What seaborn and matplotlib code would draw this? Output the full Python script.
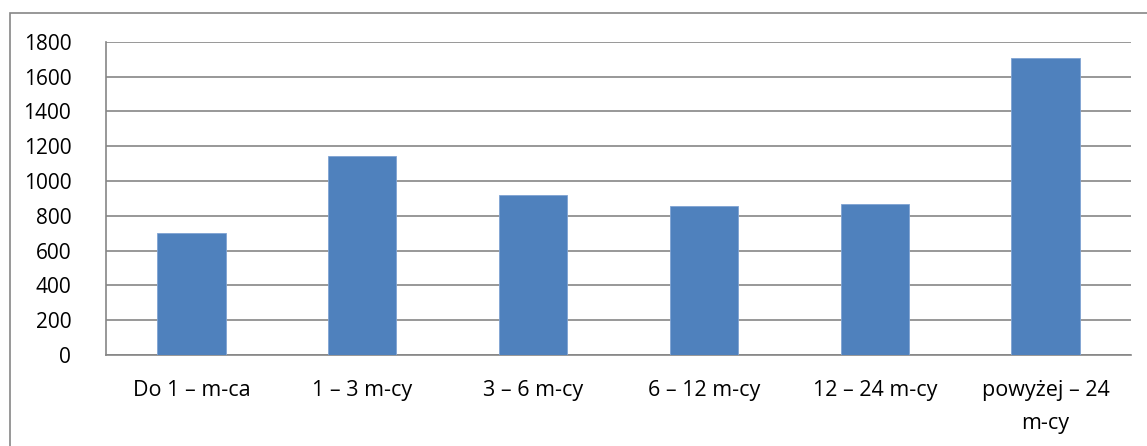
import matplotlib
matplotlib.use("Agg")
import matplotlib.pyplot as plt
import seaborn as sns
import pandas as pd
from matplotlib.patches import Rectangle

categories = ["Do 1 – m-ca", "1 – 3 m-cy", "3 – 6 m-cy", "6 – 12 m-cy", "12 – 24 m-cy", "powyżej – 24\nm-cy"]
values = [700, 1145, 922, 855, 868, 1707]
yticks = [0, 200, 400, 600, 800, 1000, 1200, 1400, 1600, 1800]

sns.set_theme(style="white")
plt.rcParams['font.family'] = ['Open Sans', 'DejaVu Sans']

W, H = 1147, 446
fig = plt.figure(figsize=(W / 100, H / 100), dpi=100)
ax = fig.add_axes([106 / W, 1 - 355 / H, (1131 - 106) / W, (355 - 41.7) / H])

df = pd.DataFrame({"cat": categories, "val": values})
sns.barplot(data=df, x="cat", y="val", ax=ax, color="#4F81BD", width=0.4,
            saturation=1, edgecolor="#7FA3D3", linewidth=0.6, zorder=3)

ax.set_ylim(0, 1800)
ax.set_xlim(-0.5, len(categories) - 0.5)
ax.set_yticks(yticks)
ax.set_yticklabels([str(t) for t in yticks])
ax.yaxis.grid(True, color="#868686", linewidth=1.2, zorder=0)
ax.set_axisbelow(True)
ax.set_xlabel("")
ax.set_ylabel("")
for s in ["top", "right"]:
    ax.spines[s].set_visible(False)
for s in ["left", "bottom"]:
    ax.spines[s].set_color("#868686")
    ax.spines[s].set_linewidth(1.2)
ax.tick_params(axis="y", length=0, pad=25, labelsize=15, colors="black")
ax.tick_params(axis="x", length=0, pad=18, labelsize=15.5, colors="black")
for lbl in ax.get_xticklabels():
    lbl.set_linespacing(1.75)

fig.patches.append(Rectangle((10 / W, -0.1), 1.2, 1.1 - 12.7 / H,
                             transform=fig.transFigure, fill=False,
                             edgecolor="#868686", linewidth=1.2, clip_on=False))

fig.savefig("out.png", dpi=100, facecolor="white")
